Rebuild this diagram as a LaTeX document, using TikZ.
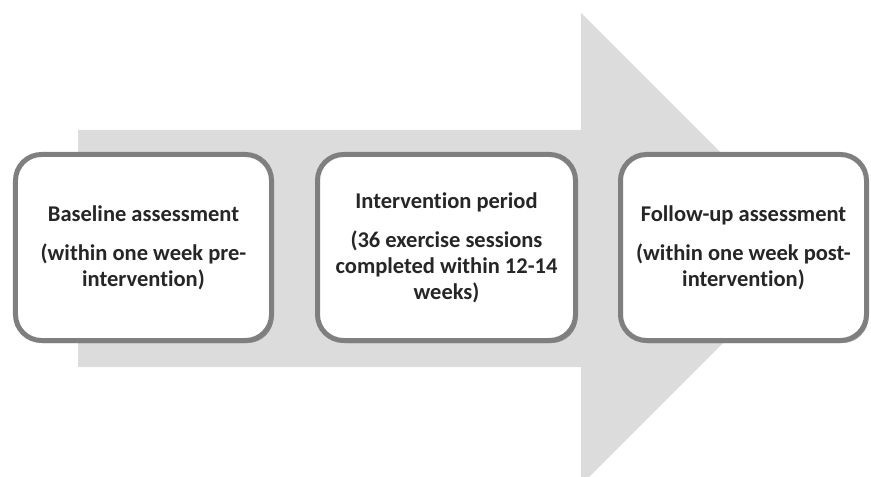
\documentclass[tikz,border=0pt]{standalone}
\usepackage{fontspec}
\setmainfont[Ligatures=NoCommon]{Carlito}
\usetikzlibrary{shadows}
\definecolor{arrowgray}{HTML}{DCDCDC}
\definecolor{boxline}{HTML}{7F7F7F}
\definecolor{txt}{HTML}{262626}
\tikzset{
  stagebox/.style={draw=boxline, line width=5bp, fill=white, rounded corners=26bp,
    minimum height=186bp, inner sep=0pt, align=center, text=txt,
    font=\bfseries\fontsize{22.5bp}{26bp}\selectfont,
    drop shadow={shadow xshift=2bp, shadow yshift=-2.5bp, opacity=0.35, fill=black}},
}
\begin{document}
\begin{tikzpicture}[x=1bp,y=-1bp]
\useasboundingbox (0,0) rectangle (871,477);
\begin{scope}
\clip (0,0) rectangle (871,477);
\fill[arrowgray] (78,130) -- (581,130) -- (581,13) -- (817,249) -- (581,485) -- (581,367) -- (78,367) -- cycle;
\end{scope}
\node[stagebox, minimum width=256bp] (base) at (143.5,247.5)
  {Baseline assessment\\[13bp](within one week pre-\\intervention)};
\node[stagebox, minimum width=258bp] (interv) at (446.5,247.5)
  {Intervention period\\[13bp](36 exercise sessions\\completed within 12-14\\weeks)};
\node[stagebox, minimum width=246bp] (follow) at (743.5,247.5)
  {Follow-up assessment\\[13bp](within one week post-\\intervention)};
\end{tikzpicture}
\end{document}
